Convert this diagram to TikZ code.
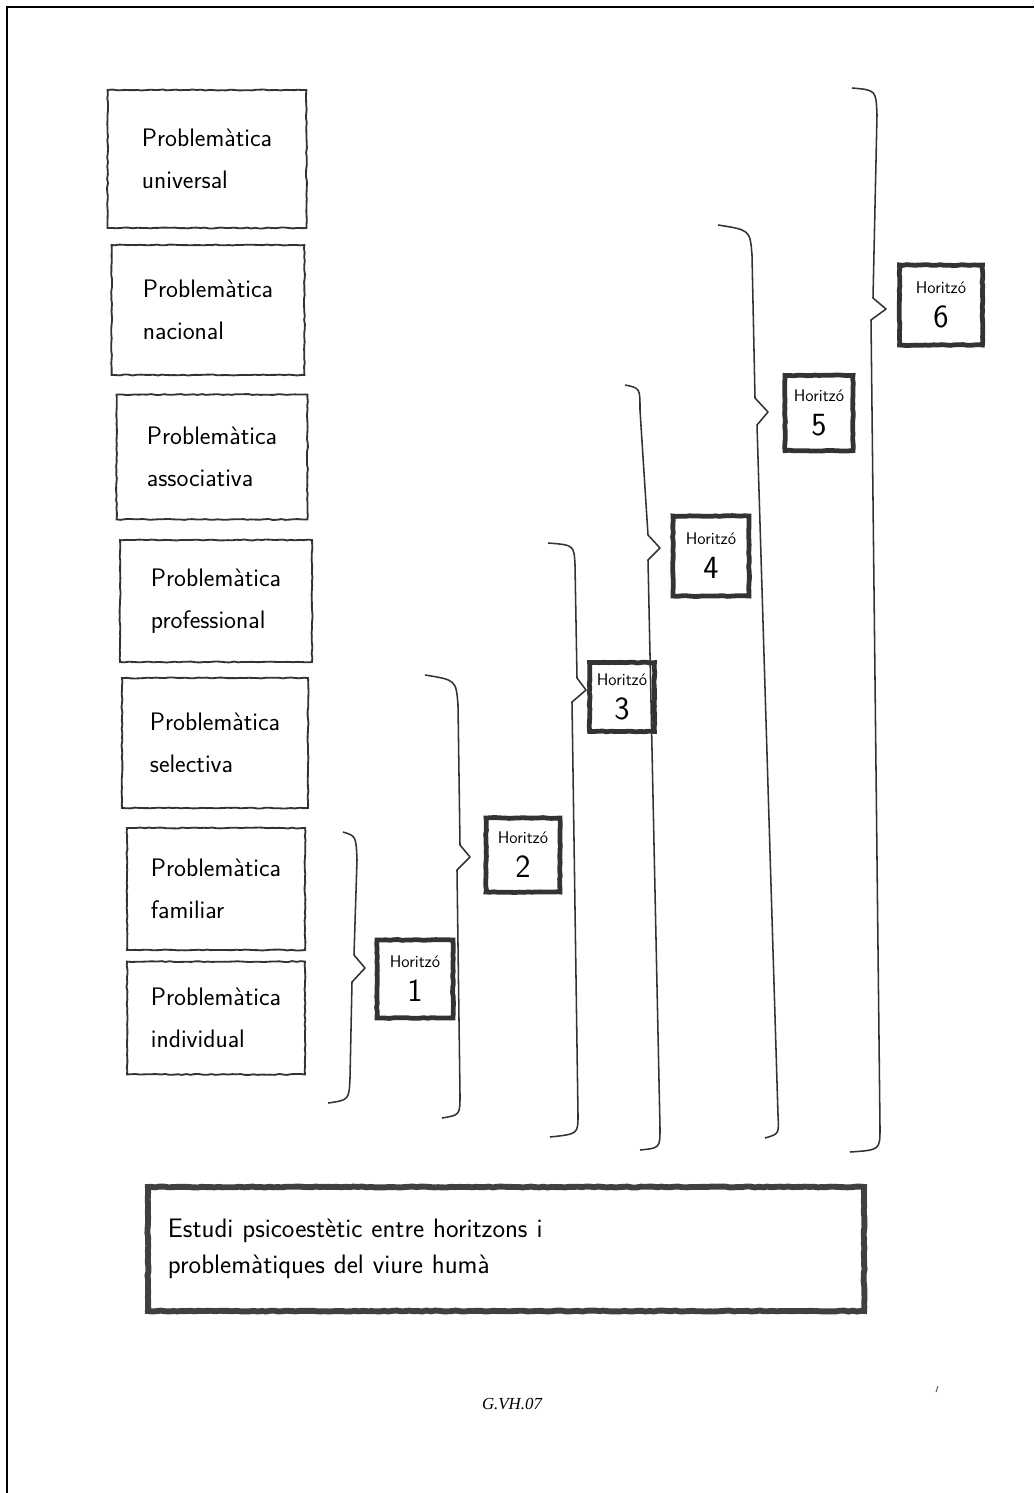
\documentclass[tikz,border=0pt]{standalone}
\usepackage{fontspec}
\newfontfamily\sigfont{Liberation Serif}
\usepackage{tikz}
\usetikzlibrary{positioning,decorations.pathmorphing}
\newcommand{\horlbl}{\fontsize{12}{14}\selectfont}

\begin{document}
\begin{tikzpicture}[x=0.025cm, y=-0.025cm,
		probbox/.style={draw=black!80, line width=1.3pt, rectangle, align=left,
				font=\sffamily\fontsize{18}{30}\selectfont, inner xsep=0.3cm,
				decorate, decoration={random steps, segment length=3pt, amplitude=0.35pt}},
		horbox/.style={draw=black!80, line width=3.4pt, rectangle, align=center,
				inner sep=1pt, font=\sffamily\fontsize{23}{24}\selectfont,
				decorate, decoration={random steps, segment length=3pt, amplitude=0.3pt}},
		studybox/.style={draw=black!75, line width=4.2pt, rectangle, align=left,
				minimum width=17.9cm, minimum height=3.1cm, text width=16.9cm,
				font=\sffamily\fontsize{19}{26}\selectfont,
				decorate, decoration={random steps, segment length=3pt, amplitude=0.35pt}},
		brace/.style={draw=black!80, line width=1.1pt, line join=round},
		frameline/.style={draw=black, line width=2pt},
	]
	\pgfmathsetseed{7}
	\useasboundingbox (0,0) rectangle (1034,1493);
	\draw[frameline] (7,1493) -- (7,7) -- (1034,7);
	% problematiques
	\node[probbox, minimum width=4.97cm, minimum height=3.45cm] (uni) at (207,159)
	{Problemàtica\\universal};
	\node[probbox, minimum width=4.82cm, minimum height=3.25cm] (nac) at (208,310)
	{Problemàtica\\nacional};
	\node[probbox, minimum width=4.77cm, minimum height=3.12cm] (ass) at (212,457)
	{Problemàtica\\associativa};
	\node[probbox, minimum width=4.8cm, minimum height=3.05cm] (pro) at (216,601)
	{Problemàtica\\professional};
	\node[probbox, minimum width=4.65cm, minimum height=3.25cm] (sel) at (215,743)
	{Problemàtica\\selectiva};
	\node[probbox, minimum width=4.45cm, minimum height=3.05cm] (fam) at (216,889)
	{Problemàtica\\familiar};
	\node[probbox, minimum width=4.45cm, minimum height=2.82cm] (ind) at (216,1018)
	{Problemàtica\\individual};
	% horitzons
	\node[horbox, minimum width=1.9cm, minimum height=1.95cm] (h1) at (415,979)
	{{\horlbl Horitzó}\\1};
	\node[horbox, minimum width=1.85cm, minimum height=1.85cm] (h2) at (523,855)
	{{\horlbl Horitzó}\\2};
	\node[horbox, minimum width=1.62cm, minimum height=1.72cm] (h3) at (622,697)
	{{\horlbl Horitzó}\\3};
	\node[horbox, minimum width=1.9cm, minimum height=2.0cm] (h4) at (711,556)
	{{\horlbl Horitzó}\\4};
	\node[horbox, minimum width=1.7cm, minimum height=1.88cm] (h5) at (819,413)
	{{\horlbl Horitzó}\\5};
	\node[horbox, minimum width=2.07cm, minimum height=2.0cm] (h6) at (941,305)
	{{\horlbl Horitzó}\\6};
	% claus
	\draw[brace] (343,832) .. controls (356,836) .. (357,860) -- (354,955)
	-- (365,968) -- (352,982) -- (350,1078) .. controls (349,1100) .. (328,1103);
	\draw[brace] (425,675) .. controls (456,680) .. (458,705) -- (460,845)
	-- (470,857) -- (457,870) -- (460,1095) .. controls (460,1115) .. (442,1118);
	\draw[brace] (548,543) .. controls (574,545) .. (575,565) -- (577,678)
	-- (586,690) -- (572,702) -- (578,1115) .. controls (578,1134) .. (550,1137);
	\draw[brace] (625,385) .. controls (640,388) .. (640,410) -- (648,535)
	-- (660,548) -- (648,560) -- (660,1128) .. controls (660,1148) .. (640,1150);
	\draw[brace] (718,225) .. controls (750,230) .. (752,255) -- (755,398)
	-- (768,412) -- (757,425) -- (778,1115) .. controls (779,1134) .. (765,1138);
	\draw[brace] (852,88) .. controls (876,90) .. (877,115) -- (873,298)
	-- (886,309) -- (871,320) -- (880,1128) .. controls (880,1150) .. (850,1152);
	% estudi
	\node[studybox] (est) at (506,1249)
	{Estudi psicoestètic entre horitzons i\\problemàtiques del viure humà\\[0.4cm]};
	\coordinate (tick) at (936,1392);
	\draw[black!70, line width=0.6pt] (tick) -- ++(2,-6);
	\node[font=\sigfont\itshape\fontsize{12}{14}\selectfont] (sig) at (512,1404) {G.VH.07};
\end{tikzpicture}
\end{document}
